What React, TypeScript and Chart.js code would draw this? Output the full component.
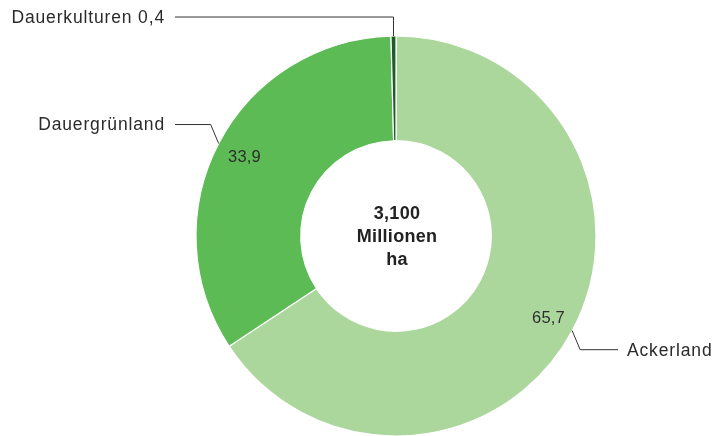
import React, { useEffect, useRef } from "react";
import { Chart, registerables } from "chart.js";

Chart.register(...registerables);

const categories = ["Ackerland", "Dauergrünland", "Dauerkulturen"];
const values = [65.7, 33.9, 0.4];
const valueLabels = ["65,7", "33,9", "0,4"];
const colors = ["#abd69c", "#5dbb55", "#1d5a2c"];
const centerLines = ["3,100", "Millionen", "ha"];

const FONT = '"Liberation Sans", Arial, Helvetica, sans-serif';

const labelPlugin = {
  id: "labels",
  afterDraw(chart: any) {
    const ctx = chart.ctx;
    const meta = chart.getDatasetMeta(0);
    const leftEnd = 175;
    const rightEnd = 618;
    ctx.save();
    meta.data.forEach((arc: any, i: number) => {
      const { x, y, startAngle, endAngle, outerRadius } = arc.getProps(
        ["x", "y", "startAngle", "endAngle", "outerRadius"],
        true
      );
      const mid = (startAngle + endAngle) / 2;
      const cos = Math.cos(mid);
      const sin = Math.sin(mid);
      const ax = x + outerRadius * cos;
      const ay = y + outerRadius * sin;
      const isSmall = values[i] < 2;
      const right = cos > 0 && !isSmall;
      const up = sin < 0;
      const ex = isSmall ? ax : ax + (right ? 8 : -8);
      const ey = ay + (up ? -19 : 19);
      const hx = right ? rightEnd : leftEnd;
      ctx.strokeStyle = "#333";
      ctx.lineWidth = 1;
      ctx.beginPath();
      ctx.moveTo(ax, ay);
      ctx.lineTo(ex, ey);
      ctx.lineTo(hx, ey);
      ctx.stroke();
      ctx.fillStyle = "#2a2a2a";
      ctx.font = `17.5px ${FONT}`;
      (ctx as any).letterSpacing = "0.85px";
      ctx.textBaseline = "middle";
      ctx.textAlign = right ? "left" : "right";
      const text = isSmall ? `${categories[i]} ${valueLabels[i]}` : categories[i];
      ctx.fillText(text, right ? hx + 9 : hx - 10, ey + 1);
      if (!isSmall) {
        (ctx as any).letterSpacing = "0.2px";
        ctx.font = `16.5px ${FONT}`;
        ctx.textAlign = "center";
        ctx.fillStyle = "#2e2e2e";
        const r = outerRadius - 28;
        ctx.fillText(valueLabels[i], x + r * cos + 1, y + r * sin + 1);
      }
    });
    // center text
    const cx = meta.data[0].x;
    const cy = meta.data[0].y;
    (ctx as any).letterSpacing = "0.3px";
    ctx.font = `bold 18px ${FONT}`;
    ctx.textAlign = "center";
    ctx.textBaseline = "middle";
    ctx.fillStyle = "#222";
    centerLines.forEach((t, k) => {
      ctx.fillText(t, cx + 1, cy + 1 + (k - 1) * 23);
    });
    ctx.restore();
  },
};

export default function App() {
  const ref = useRef<HTMLCanvasElement>(null);
  useEffect(() => {
    if (!ref.current) return;
    const chart = new Chart(ref.current, {
      type: "doughnut",
      data: {
        labels: categories,
        datasets: [
          {
            data: values,
            backgroundColor: colors,
            borderColor: "#ffffff",
            borderWidth: 1.2,
          },
        ],
      },
      options: {
        responsive: false,
        animation: false,
        radius: 200,
        cutout: 95,
        rotation: 0,
        layout: { padding: { left: 77, right: 0, top: 36, bottom: 0 } },
        plugins: {
          legend: { display: false },
          tooltip: { enabled: false },
        },
      } as any,
      plugins: [labelPlugin],
    });
    return () => chart.destroy();
  }, []);
  return (
    <div style={{ position: "absolute", left: 0, top: 0, width: 715, height: 436, background: "#fff" }}>
      <canvas ref={ref} width={715} height={436} />
    </div>
  );
}
